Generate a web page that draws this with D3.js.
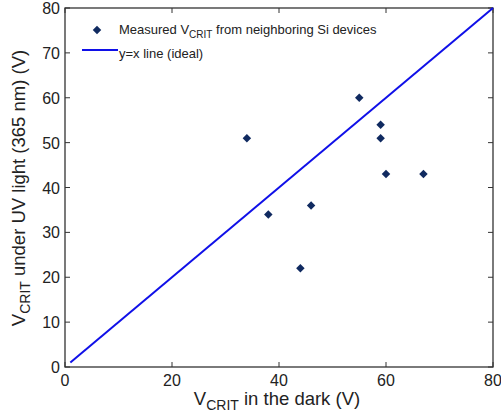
<html>
<head>
<script src="https://cdn.jsdelivr.net/npm/d3@7"></script>
<style>
  body { margin: 0; background: #fff; }
  text { font-family: "Liberation Sans", Arial, sans-serif; fill: #222; }
</style>
</head>
<body>
<svg width="501" height="417"></svg>
<script>
// measured points: V_CRIT in dark (x) vs under UV (y)
var darkV = [34, 38, 44, 46, 55, 59, 59, 60, 67]
var uvV   = [51, 34, 22, 36, 60, 54, 51, 43, 43]
var idealX = [1, 80]
var xTicks = [0, 20, 40, 60, 80]
var yTicks = [0, 10, 20, 30, 40, 50, 60, 70, 80]

var svg = d3.select('svg')
var pL = 65, pR = 493, pT = 8, pB = 367

var x = d3.scaleLinear().domain([0, 80]).range([pL, pR])
var y = d3.scaleLinear().domain([0, 80]).range([pB, pT])

// box
svg.append('rect')
  .attr('x', pL).attr('y', pT)
  .attr('width', pR - pL).attr('height', pB - pT)
  .attr('fill', 'none').attr('stroke', '#333').attr('stroke-width', 1.3)

// ticks (inward, on all four sides)
var tk = 5
svg.selectAll('.xt').data(xTicks).enter().append('path')
  .attr('d', function(d){ return 'M' + x(d) + ',' + pB + 'v' + (-tk) + 'M' + x(d) + ',' + pT + 'v' + tk })
  .attr('stroke', '#333')
svg.selectAll('.yt').data(yTicks).enter().append('path')
  .attr('d', function(d){ return 'M' + pL + ',' + y(d) + 'h' + tk + 'M' + pR + ',' + y(d) + 'h' + (-tk) })
  .attr('stroke', '#333')

svg.selectAll('.xl').data(xTicks).enter().append('text')
  .attr('x', function(d){ return x(d) })
  .attr('y', pB + 19)
  .attr('text-anchor', 'middle')
  .style('font-size', '16px')
  .text(function(d){ return d })
svg.selectAll('.yl').data(yTicks).enter().append('text')
  .attr('x', pL - 5)
  .attr('y', function(d){ return y(d) + 6 })
  .attr('text-anchor', 'end')
  .style('font-size', '16px')
  .text(function(d){ return d })

// y = x line
svg.append('line')
  .attr('x1', x(idealX[0])).attr('y1', y(idealX[0]))
  .attr('x2', x(idealX[1])).attr('y2', y(idealX[1]))
  .attr('stroke', '#1010e8').attr('stroke-width', 2)

// points (square rotated 45deg = diamond)
var diamond = d3.symbol().type(d3.symbolSquare).size(36)
svg.selectAll('.pt').data(darkV).enter().append('path')
  .attr('d', diamond)
  .attr('transform', function(d, i){ return 'translate(' + x(d) + ',' + y(uvV[i]) + ') rotate(45)' })
  .attr('fill', '#102a60')

// legend
svg.append('path').attr('d', diamond)
  .attr('transform', 'translate(97,30) rotate(45)').attr('fill', '#102a60')
var l1 = svg.append('text').attr('x', 119).attr('y', 34).style('font-size', '13px')
l1.append('tspan').text('Measured V')
l1.append('tspan').attr('dy', 4).style('font-size', '10px').text('CRIT')
l1.append('tspan').attr('dy', -4).text(' from neighboring Si devices')
svg.append('line').attr('x1', 82).attr('x2', 118).attr('y1', 50).attr('y2', 50)
  .attr('stroke', '#1010e8').attr('stroke-width', 2)
svg.append('text').attr('x', 119).attr('y', 58).style('font-size', '13px').text('y=x line (ideal)')

// axis labels
var xl = svg.append('text').attr('x', 277).attr('y', 405).attr('text-anchor', 'middle').style('font-size', '18.5px')
xl.append('tspan').text('V')
xl.append('tspan').attr('dy', 5).style('font-size', '14px').text('CRIT')
xl.append('tspan').attr('dy', -5).text(' in the dark (V)')

var yl = svg.append('text').attr('transform', 'translate(25,188) rotate(-90)').attr('text-anchor', 'middle').style('font-size', '18.5px')
yl.append('tspan').text('V')
yl.append('tspan').attr('dy', 5).style('font-size', '14px').text('CRIT')
yl.append('tspan').attr('dy', -5).text(' under UV light (365 nm) (V)')
</script>
</body>
</html>
